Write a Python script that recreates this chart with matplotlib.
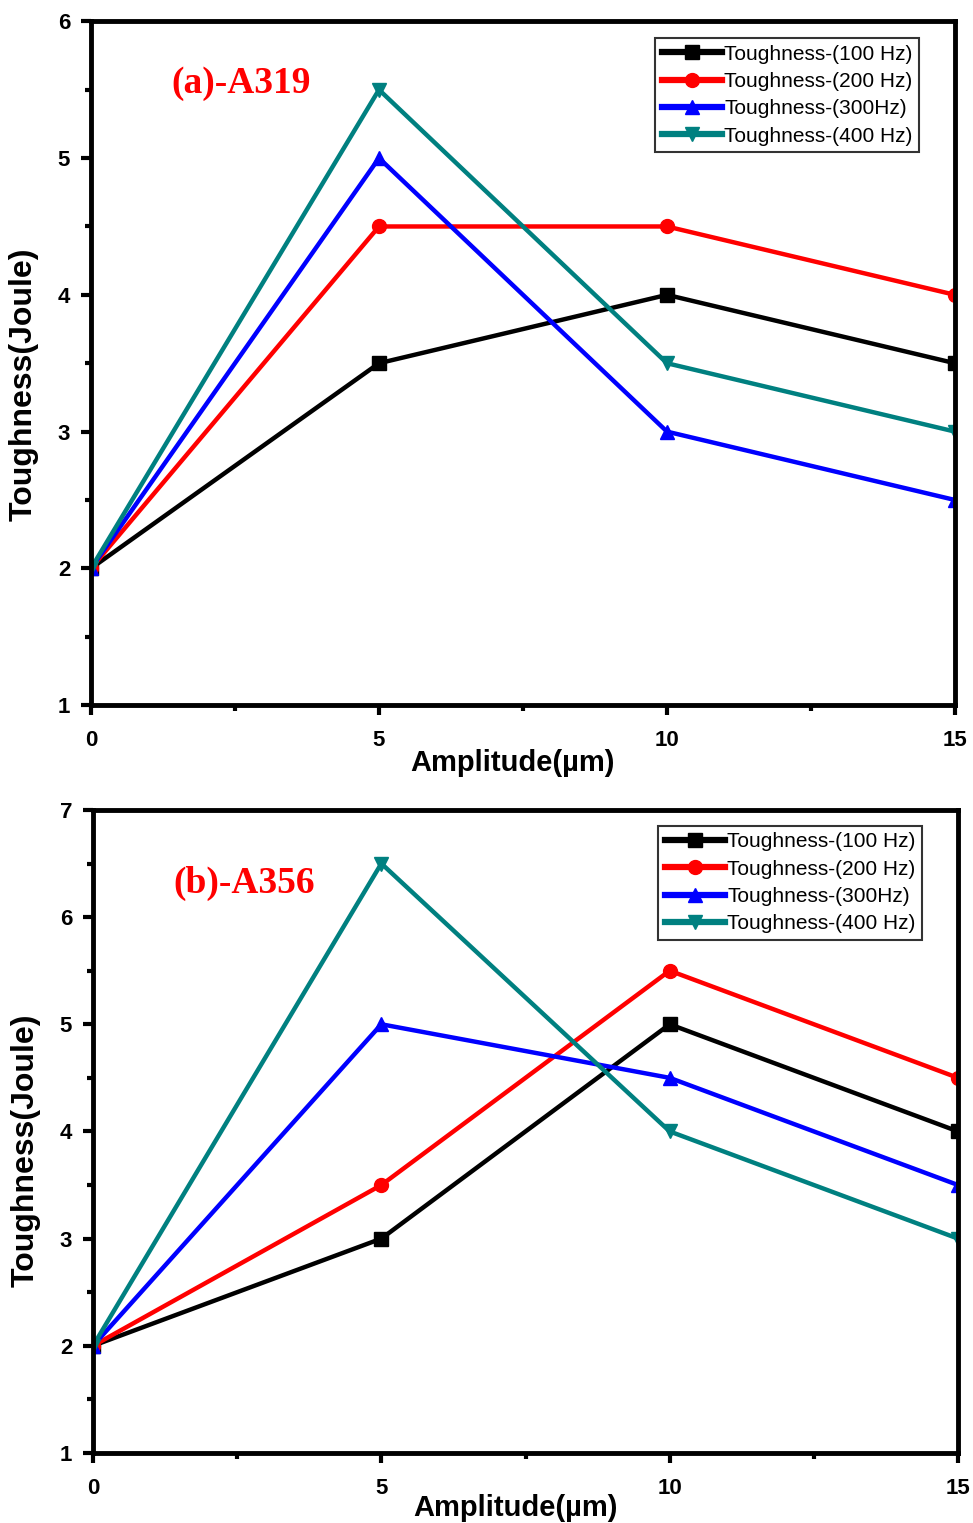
import matplotlib
matplotlib.use("Agg")
import matplotlib.pyplot as plt
from matplotlib.ticker import MultipleLocator

amplitude = [0, 5, 10, 15]
series_labels = ["Toughness-(100 Hz)", "Toughness-(200 Hz)",
                 "Toughness-(300Hz)", "Toughness-(400 Hz)"]
colors = ["#000000", "#ff0000", "#0000ff", "#008080"]
markers = ["s", "o", "^", "v"]

a319_100 = [2, 3.5, 4, 3.5]
a319_200 = [2, 4.5, 4.5, 4]
a319_300 = [2, 5, 3, 2.5]
a319_400 = [2, 5.5, 3.5, 3]

a356_100 = [2, 3, 5, 4]
a356_200 = [2, 3.5, 5.5, 4.5]
a356_300 = [2, 5, 4.5, 3.5]
a356_400 = [2, 6.5, 4, 3]

plt.rcParams["font.family"] = ["Liberation Sans", "DejaVu Sans"]
plt.rcParams["font.weight"] = "bold"

fig = plt.figure(figsize=(9.73, 15.23), dpi=100)
ax_a = fig.add_axes([0.0935, 0.537, 0.888, 0.449])
ax_b = fig.add_axes([0.0956, 0.046, 0.889, 0.4222])


def draw_panel(ax, data, ymax, title, title_y, legend_anchor):
    for vals, lab, c, m in zip(data, series_labels, colors, markers):
        ax.plot(amplitude, vals, color=c, marker=m, lw=3.2, ms=10,
                label=lab, clip_on=True)
    ax.set_xlim(0, 15)
    ax.set_ylim(1, ymax)
    ax.xaxis.set_major_locator(MultipleLocator(5))
    ax.xaxis.set_minor_locator(MultipleLocator(2.5))
    ax.yaxis.set_major_locator(MultipleLocator(1))
    ax.yaxis.set_minor_locator(MultipleLocator(0.5))
    for s in ax.spines.values():
        s.set_linewidth(3.5)
    ax.tick_params(which="major", direction="out", length=7, width=3,
                   labelsize=16, pad=8)
    ax.tick_params(axis="x", which="major", pad=11)
    ax.tick_params(which="minor", direction="out", length=4, width=3)
    ax.tick_params(top=False, right=False, which="both")
    ax.set_xlabel("Amplitude(µm)", fontsize=21, fontweight="bold")
    ax.set_ylabel("Toughness(Joule)", fontsize=23, fontweight="bold")
    ax.xaxis.set_label_coords(0.488, -0.064)
    ax.yaxis.set_label_coords(-0.061, 0.47)
    ax.text(0.093, title_y, title, transform=ax.transAxes, color="#ff0000",
            fontsize=27, fontweight="bold", family="Liberation Serif",
            va="baseline")
    leg = ax.legend(loc="upper right", bbox_to_anchor=legend_anchor,
                    fontsize=15, frameon=True, fancybox=False,
                    edgecolor="black", handlelength=2.9, handletextpad=0.1,
                    borderpad=0.3, labelspacing=0.4, borderaxespad=0)
    leg.get_frame().set_linewidth(1.5)
    for t in leg.get_texts():
        t.set_fontweight("normal")
    for h in leg.get_lines():
        h.set_linewidth(4.5)


draw_panel(ax_a, [a319_100, a319_200, a319_300, a319_400], 6,
           "(a)-A319", 0.895, (0.958, 0.975))
draw_panel(ax_b, [a356_100, a356_200, a356_300, a356_400], 7,
           "(b)-A356", 0.871, (0.958, 0.975))

fig.savefig("out.png", dpi=100, facecolor="white")
